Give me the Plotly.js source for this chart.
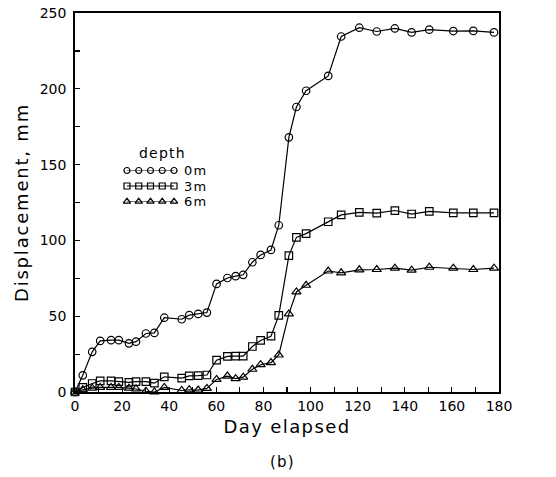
<!DOCTYPE html>
<html><head><meta charset="utf-8">
<script src="https://cdn.plot.ly/plotly-3.0.1.min.js"></script>
<style>
html,body{margin:0;padding:0;background:#fff}
#chart{width:556px;height:477px}
.xtitle{letter-spacing:1.4px}
.ytitle{letter-spacing:1.8px}
.annotation-text{letter-spacing:1.2px}
</style>
</head><body><div id="chart"></div>
<script>
// Day elapsed (measurement days)
const days = [0, 3.3, 7.3, 10.7, 15.3, 18.6, 22.9, 25.9, 30.1, 33.7, 37.9, 45.3, 48.5, 52.3, 56, 60.1, 64.7, 68.2, 71.4, 75.3, 78.8, 83.2, 86.5, 90.8, 94, 98.1, 107.5, 113, 120.7, 128.1, 135.8, 142.9, 150.4, 160.6, 169.1, 177.9];
// Displacement (mm) by depth
const depth0m = [0, 11, 26.5, 33.7, 34.2, 34.2, 32.1, 33.2, 38.6, 39, 49, 48, 50.7, 51.5, 52.4, 71.3, 75.2, 76.4, 77.3, 85.6, 90.4, 93.7, 110, 168, 188, 198.7, 208.5, 234.5, 240.3, 237.8, 239.8, 237.2, 239, 238.1, 238.2, 237.2];
const depth3m = [0, 3, 5.6, 7.3, 7.4, 6.8, 6.4, 6.8, 6.8, 5.8, 10, 9.2, 10.6, 10.8, 11.2, 21, 23.5, 23.6, 23.7, 30, 34, 36.8, 50.5, 90, 102, 104.5, 112.3, 116.8, 118.5, 118, 119.7, 117.4, 119.2, 118.2, 118.2, 118.2];
const depth6m = [0, 1.5, 2.5, 3, 3, 3, 2.5, 2, 0.5, 0, 3, 1, 1.5, 1.3, 2.4, 8.3, 10.5, 8.8, 9.8, 15, 18, 19.4, 24.4, 51.5, 66, 70.4, 79.8, 78.6, 80.6, 80.8, 81.7, 80.4, 82.3, 81.7, 80.8, 81.7];
const seriesNames = ['0m', '3m', '6m'];
const seriesSymbols = ['circle-open', 'square-open', 'triangle-up-open'];
const xTickVals = [0, 20, 40, 60, 80, 100, 120, 140, 160, 180];
const yTickVals = [0, 50, 100, 150, 200, 250];

const FONT = 'DejaVu Sans, Liberation Sans, sans-serif';
const seriesData = [depth0m, depth3m, depth6m];

const traces = seriesData.map((vals, i) => ({
  type: 'scatter', mode: 'lines+markers', name: seriesNames[i],
  x: days, y: vals, cliponaxis: false, showlegend: false,
  line: {color: '#000', width: 1.2},
  marker: {symbol: seriesSymbols[i], size: i === 2 ? 8 : 7.5, color: '#000', line: {color: '#000', width: 1.2}}
}));

// hand-made legend key (5 sample markers per row) on a small hidden subplot
const keySlots = [0, 1, 2, 3, 4];
seriesNames.forEach((nm, i) => {
  traces.push({
    type: 'scatter', mode: 'lines+markers', xaxis: 'x2', yaxis: 'y2', showlegend: false,
    hoverinfo: 'skip', cliponaxis: false,
    x: keySlots, y: keySlots.map(() => i),
    line: {color: '#000', width: 1.2},
    marker: {symbol: seriesSymbols[i], size: i === 2 ? 6.5 : 6, color: '#000', line: {color: '#000', width: 1.2}}
  });
});

const axisCommon = {
  showline: true, linecolor: '#000', linewidth: 1.8, mirror: true,
  ticks: 'inside', ticklen: 5, tickwidth: 1.2, tickcolor: '#000',
  showgrid: false, zeroline: false,
  tickfont: {family: FONT, size: 14, color: '#000'}
};

const legFont = {family: FONT, size: 13, color: '#000'};

const layout = {
  width: 556, height: 477,
  margin: {l: 75, r: 57, t: 13, b: 85},
  paper_bgcolor: '#fff', plot_bgcolor: '#fff',
  showlegend: false,
  xaxis: Object.assign({}, axisCommon, {
    range: [0, 180], tickvals: xTickVals,
    minor: {dtick: 10, tick0: 0, ticks: 'inside', ticklen: 5, tickwidth: 1.2, tickcolor: '#000'},
    title: {text: 'Day elapsed', font: {family: FONT, size: 18, color: '#000'}, standoff: 8}
  }),
  yaxis: Object.assign({}, axisCommon, {
    range: [0, 250], tickvals: yTickVals, ticklabelstandoff: 4,
    minor: {dtick: 25, tick0: 0, ticks: 'inside', ticklen: 5, tickwidth: 1.2, tickcolor: '#000'},
    title: {text: 'Displacement, mm', font: {family: FONT, size: 18, color: '#000'}, standoff: 6}
  }),
  xaxis2: {anchor: 'y2', visible: false, domain: [0.1226, 0.2335], range: [0, 4], fixedrange: true},
  yaxis2: {anchor: 'x2', visible: false, domain: [0.5026, 0.5844], range: [2, 0], fixedrange: true},
  annotations: [
    {xref: 'paper', yref: 'paper', x: 0.2524, y: 0.5844, xanchor: 'left', yanchor: 'middle', text: '0m', showarrow: false, font: legFont},
    {xref: 'paper', yref: 'paper', x: 0.2524, y: 0.5435, xanchor: 'left', yanchor: 'middle', text: '3m', showarrow: false, font: legFont},
    {xref: 'paper', yref: 'paper', x: 0.2524, y: 0.5026, xanchor: 'left', yanchor: 'middle', text: '6m', showarrow: false, font: legFont},
    {xref: 'paper', yref: 'paper', x: 0.2052, y: 0.6306, xanchor: 'center', yanchor: 'middle', text: 'depth', showarrow: false, font: {family: FONT, size: 14, color: '#000'}},
    {xref: 'paper', yref: 'paper', x: 0.49, y: -0.185, xanchor: 'center', yanchor: 'middle', text: '(b)', showarrow: false, font: {family: FONT, size: 15, color: '#000'}}
  ]
};

Plotly.newPlot('chart', traces, layout, {displayModeBar: false, staticPlot: true});
</script>
</body></html>
